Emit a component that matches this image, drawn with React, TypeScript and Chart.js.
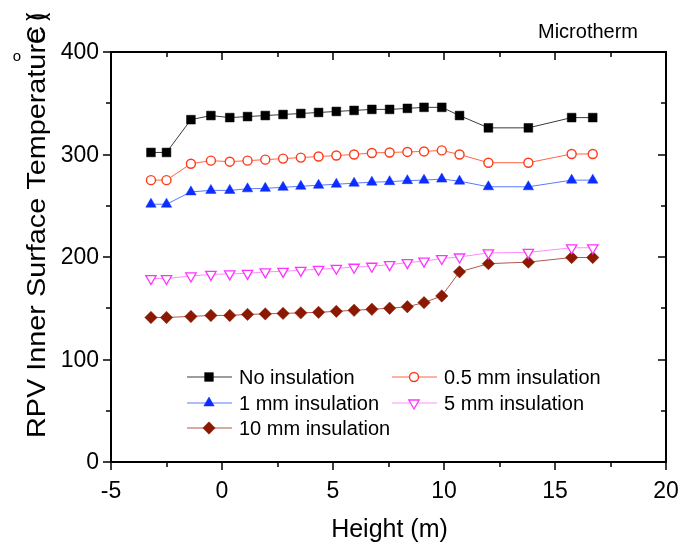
import React, { useEffect, useRef } from "react";
import { Chart, registerables } from "chart.js";
import { drawPoint } from "chart.js/helpers";

Chart.register(...registerables);

// Measurement heights along the vessel wall (m)
const heights = [-3.2, -2.5, -1.4, -0.5, 0.35, 1.15, 1.95, 2.75, 3.55, 4.35, 5.15, 5.95, 6.75, 7.55, 8.35, 9.1, 9.9, 10.7, 12.0, 13.8, 15.75, 16.7];

// Inner surface temperature (°C) for each insulation thickness
const noInsulation = [302, 302, 334, 338, 336, 337, 338, 339, 340, 341, 342, 343, 344, 344, 345, 346, 346, 338, 326, 326, 336, 336];
const ins05mm = [275, 275, 291, 294, 293, 294, 295, 296, 297, 298, 299, 300, 301.5, 302, 302.5, 303, 304, 300, 292, 292, 300.5, 300.5];
const ins1mm = [251.5, 251.5, 263.5, 265, 265, 266.5, 267, 268, 269, 270, 271, 272, 273, 273.5, 274.5, 275, 276, 274, 268.5, 268.5, 275, 275];
const ins5mm = [179, 179, 181.5, 183, 183.5, 184, 185.5, 186, 187, 188, 189, 190, 191, 192.5, 194.5, 196, 198.5, 200, 204, 204.5, 209, 209];
const ins10mm = [141, 141, 142, 143, 143, 144, 144.5, 145, 145.5, 146, 147, 148, 149, 150, 151.5, 155.5, 162, 185.5, 193.5, 195, 199.5, 199.5];

const seriesNames = ["No insulation", "0.5 mm insulation", "1 mm insulation", "5 mm insulation", "10 mm insulation"];

const xTickValues = [-5, 0, 5, 10, 15, 20];
const yTickValues = [0, 100, 200, 300, 400];
const xMinorStep = 2.5;
const yMinorStep = 50;

const xTitle = "Height (m)";
const yTitle = "RPV Inner Surface Temperature";
const panelLabel = "Microtherm";

const FONT = '"Liberation Sans", Arial, Helvetica, sans-serif';

type Style = {
  pointStyle: string;
  radius: number;
  rotation: number;
  fill: string;
  stroke: string;
  borderWidth: number;
  line: string;
};

const styles: Style[] = [
  { pointStyle: "rect", radius: 6.2, rotation: 0, fill: "#000000", stroke: "#000000", borderWidth: 0.5, line: "#3a3a3a" },
  { pointStyle: "circle", radius: 4.5, rotation: 0, fill: "#ffffff", stroke: "#ff3a1a", borderWidth: 1.4, line: "#ff6444" },
  { pointStyle: "triangle", radius: 6, rotation: 0, fill: "#0c2dff", stroke: "#0c2dff", borderWidth: 0.5, line: "#5b78ff" },
  { pointStyle: "triangle", radius: 6, rotation: 180, fill: "#ffffff", stroke: "#ff33ff", borderWidth: 1.3, line: "#ff8cff" },
  { pointStyle: "rectRot", radius: 6.2, rotation: 0, fill: "#8b1800", stroke: "#8b1800", borderWidth: 0.5, line: "#b0584c" },
];

const seriesValues = [noInsulation, ins05mm, ins1mm, ins5mm, ins10mm];

const framePlugin = {
  id: "originFrame",
  afterDraw(chart: any) {
    const { ctx, chartArea } = chart;
    const { left, right, top, bottom } = chartArea;
    const xs = chart.scales.x;
    const ys = chart.scales.y;
    ctx.save();

    // frame
    ctx.strokeStyle = "#000";
    ctx.lineWidth = 2;
    ctx.strokeRect(left, top, right - left, bottom - top);

    // ticks: outward on bottom/left, inward on top/right
    ctx.lineWidth = 1.5;
    ctx.beginPath();
    for (let v = xs.min; v <= xs.max + 1e-9; v += xMinorStep) {
      const px = Math.round(xs.getPixelForValue(v));
      const major = xTickValues.includes(v);
      const len = major ? 8 : 5;
      ctx.moveTo(px, bottom);
      ctx.lineTo(px, bottom + len);
      ctx.moveTo(px, top);
      ctx.lineTo(px, top + len);
    }
    for (let v = ys.min; v <= ys.max + 1e-9; v += yMinorStep) {
      const py = Math.round(ys.getPixelForValue(v));
      const major = yTickValues.includes(v);
      const len = major ? 8 : 5;
      ctx.moveTo(left, py);
      ctx.lineTo(left - len, py);
      ctx.moveTo(right, py);
      ctx.lineTo(right - len, py);
    }
    ctx.stroke();

    // tick labels
    ctx.fillStyle = "#000";
    ctx.font = `23px ${FONT}`;
    ctx.textAlign = "center";
    ctx.textBaseline = "alphabetic";
    xTickValues.forEach((v) => {
      ctx.fillText(String(v), xs.getPixelForValue(v), bottom + 36);
    });
    ctx.textAlign = "right";
    ctx.textBaseline = "middle";
    yTickValues.forEach((v) => {
      ctx.fillText(String(v), left - 12, ys.getPixelForValue(v) + 1);
    });

    // x title
    ctx.font = `25px ${FONT}`;
    ctx.textAlign = "center";
    ctx.textBaseline = "alphabetic";
    ctx.fillText(xTitle, (left + right) / 2 + 1, bottom + 75);

    // y title, stretched along its length
    ctx.save();
    ctx.translate(left - 66, bottom - 24);
    ctx.rotate(-Math.PI / 2);
    ctx.textAlign = "left";
    const w = ctx.measureText(yTitle).width;
    const len = 410;
    ctx.save();
    ctx.scale(len / w, 1);
    ctx.fillText(yTitle, 0, 0);
    ctx.restore();
    ctx.fillText("C", len - 16, 0);
    ctx.fillText("(", len + 7, 0);
    ctx.fillText(")", len + 7, 0);
    ctx.restore();
    ctx.font = `15px ${FONT}`;
    ctx.textAlign = "center";
    ctx.textBaseline = "middle";
    ctx.fillText("o", left - 94, top + 5);

    // panel label
    ctx.font = `20px ${FONT}`;
    ctx.textAlign = "center";
    ctx.textBaseline = "alphabetic";
    ctx.fillText(panelLabel, right - 78, top - 14);

    // legend
    const cols = [left + 76, left + 281];
    const rows = [top + 325, top + 351, top + 376];
    ctx.font = `20px ${FONT}`;
    ctx.textAlign = "left";
    ctx.textBaseline = "middle";
    seriesNames.forEach((name, i) => {
      const cx = cols[i % 2];
      const cy = rows[Math.floor(i / 2)];
      const st = styles[i];
      ctx.strokeStyle = st.line;
      ctx.lineWidth = 1;
      ctx.beginPath();
      ctx.moveTo(cx, cy);
      ctx.lineTo(cx + 45, cy);
      ctx.stroke();
      ctx.fillStyle = st.fill;
      ctx.strokeStyle = st.stroke;
      ctx.lineWidth = st.borderWidth;
      drawPoint(ctx, { pointStyle: st.pointStyle as any, radius: st.radius, rotation: st.rotation, borderWidth: st.borderWidth }, cx + 22, cy);
      ctx.fillStyle = "#000";
      ctx.fillText(name, cx + 52, cy + 1);
    });

    ctx.restore();
  },
};

export default function App() {
  const canvasRef = useRef<HTMLCanvasElement | null>(null);

  useEffect(() => {
    const canvas = canvasRef.current;
    if (!canvas) return;

    const datasets = seriesValues.map((vals, i) => {
      const st = styles[i];
      return {
        label: seriesNames[i],
        data: heights.map((h, j) => ({ x: h, y: vals[j] })),
        borderColor: st.line,
        borderWidth: 1,
        pointStyle: st.pointStyle as any,
        pointRadius: st.radius,
        pointRotation: st.rotation,
        pointBackgroundColor: st.fill,
        pointBorderColor: st.stroke,
        pointBorderWidth: st.borderWidth,
        tension: 0,
        fill: false,
      };
    });

    const chart = new Chart(canvas, {
      type: "line",
      data: { datasets },
      options: {
        animation: false,
        responsive: false,
        devicePixelRatio: 1,
        layout: { padding: { top: 52, right: 16, left: 0, bottom: 0 } },
        plugins: {
          legend: { display: false },
          tooltip: { enabled: false },
        },
        scales: {
          x: {
            type: "linear",
            min: -5,
            max: 20,
            ticks: { display: false },
            grid: { display: false },
            border: { display: false },
            afterFit: (s: any) => {
              s.height = 83;
            },
          },
          y: {
            type: "linear",
            min: 0,
            max: 400,
            ticks: { display: false },
            grid: { display: false },
            border: { display: false },
            afterFit: (s: any) => {
              s.width = 111;
            },
          },
        },
      },
      plugins: [framePlugin],
    });

    return () => chart.destroy();
  }, []);

  return (
    <div style={{ position: "absolute", left: 0, top: 0, width: 682, height: 545, background: "#fff" }}>
      <canvas ref={canvasRef} width={682} height={545} style={{ display: "block" }} />
    </div>
  );
}
